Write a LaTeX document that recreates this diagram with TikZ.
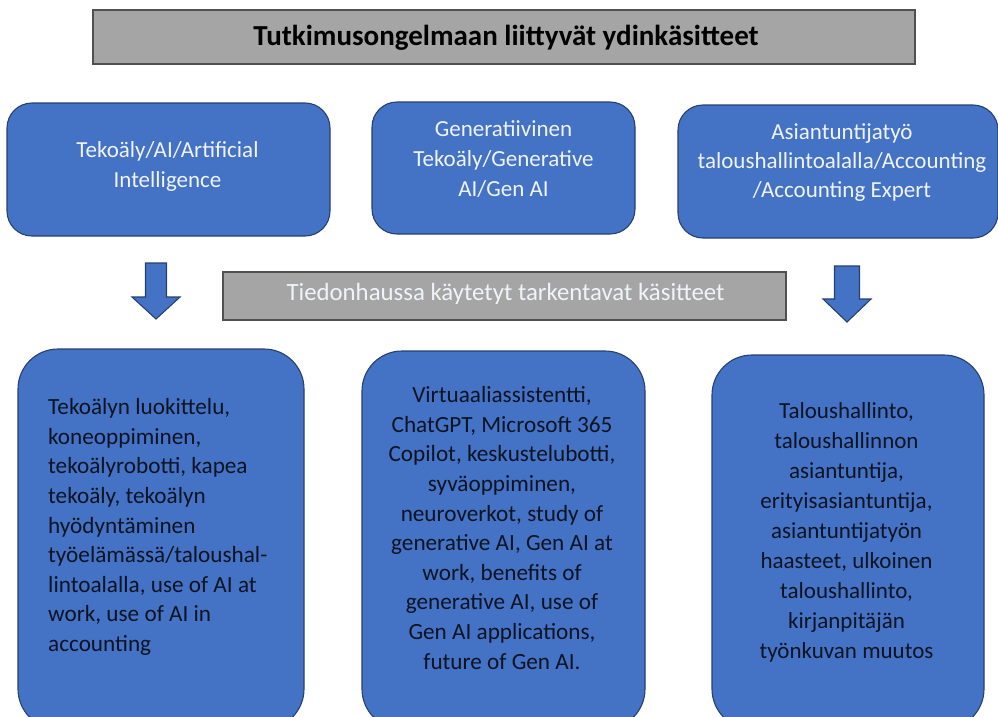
\documentclass[tikz,border=0pt]{standalone}
\usepackage{fontspec}
\setmainfont{Carlito}
\definecolor{boxblue}{RGB}{68,114,196}
\definecolor{boxedge}{RGB}{38,64,112}
\definecolor{greyfill}{RGB}{165,165,165}
\definecolor{greyedge}{RGB}{80,80,80}
\definecolor{lighttext}{RGB}{240,244,250}
\definecolor{darktext}{RGB}{12,20,36}
\begin{document}
\begin{tikzpicture}[x=1pt,y=-1pt,
  bluebox/.style={draw=boxedge,fill=boxblue,line width=1.1pt,rounded corners=#1,inner sep=0pt},
  greybox/.style={draw=greyedge,fill=greyfill,line width=1.4pt,inner sep=0pt},
  toptext/.style={text=lighttext,align=center,inner sep=0pt,font=\fontsize{23}{30}\selectfont},
  bottext/.style={text=darktext,inner sep=0pt,font=\fontsize{23.2}{29.6}\selectfont},
  downarrow/.style={draw=boxedge,fill=boxblue,line width=1.1pt,line join=miter}
]
\useasboundingbox (0,0) rectangle (998,717);
\clip (0,0) rectangle (998,717);

% title
\node[greybox,minimum width=822pt,minimum height=54pt] (title) at (504,37) {};
\node[inner sep=0pt,font=\fontsize{29}{32}\selectfont\bfseries,text=black] (titletext) at (506,38) {Tutkimusongelmaan liittyvät ydinkäsitteet};

% top boxes
\node[bluebox=25pt,minimum width=323pt,minimum height=133pt] (b1) at (168.5,169.5) {};
\node[bluebox=25pt,minimum width=263pt,minimum height=132pt] (b2) at (503.5,168) {};
\node[bluebox=25pt,minimum width=320pt,minimum height=133pt] (b3) at (838,171.5) {};
\node[toptext] (t1) at (167.5,166) {Tekoäly/AI/Artificial\\Intelligence};
\node[toptext] (t2) at (503.5,159) {Generatiivinen\\Tekoäly/Generative\\AI/Gen AI};
\node[toptext,font=\fontsize{23}{29}\selectfont] (t3) at (842,163) {Asiantuntijatyö\\taloushallintoalalla/Accounting\\/Accounting Expert};

% middle grey box
\node[greybox,minimum width=563pt,minimum height=48pt] (mid) at (504.5,296) {};
\node[inner sep=0pt,text=lighttext,font=\fontsize{24.8}{28}\selectfont] (midtext) at (505.5,294) {Tiedonhaussa käytetyt tarkentavat käsitteet};

% arrows
\draw[downarrow] (145.5,263) -- (166.5,263) -- (166.5,297) -- (180,297) -- (156,319) -- (132,297) -- (145.5,297) -- cycle;
\draw[downarrow] (834.5,266) -- (859.5,266) -- (859.5,299) -- (871,299) -- (847,322) -- (823,299) -- (834.5,299) -- cycle;

% bottom boxes
\node[bluebox=40pt,minimum width=286pt,minimum height=380pt] (b4) at (161,539) {};
\node[bluebox=40pt,minimum width=283pt,minimum height=378pt] (b5) at (503.5,540) {};
\node[bluebox=40pt,minimum width=272pt,minimum height=374pt] (b6) at (848,542) {};

\node[bottext,align=left,anchor=west] (t4) at (48,527) {Tekoälyn luokittelu,\\koneoppiminen,\\tekoälyrobotti, kapea\\tekoäly, tekoälyn\\hyödyntäminen\\työelämässä/taloushal-\\lintoalalla, use of AI at\\work, use of AI in\\accounting};
\node[bottext,align=center] (t5) at (502,528) {Virtuaaliassistentti,\\ChatGPT, Microsoft 365\\Copilot, keskustelubotti,\\syväoppiminen,\\neuroverkot, study of\\generative AI, Gen AI at\\work, benefits of\\generative AI, use of\\Gen AI applications,\\future of Gen AI.};
\node[bottext,align=center,font=\fontsize{23}{30}\selectfont] (t6) at (846.5,532) {Taloushallinto,\\taloushallinnon\\asiantuntija,\\erityisasiantuntija,\\asiantuntijatyön\\haasteet, ulkoinen\\taloushallinto,\\kirjanpitäjän\\työnkuvan muutos};
\end{tikzpicture}
\end{document}
